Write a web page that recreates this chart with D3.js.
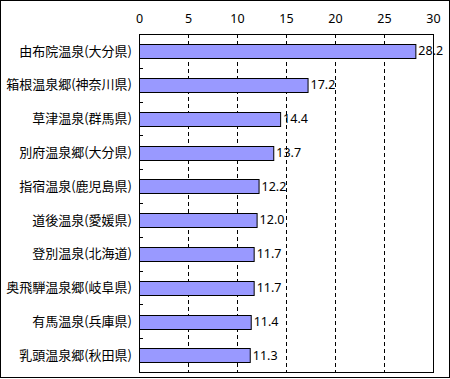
<!DOCTYPE html>
<html>
<head>
<meta charset="utf-8">
<script src="https://cdn.jsdelivr.net/npm/d3@7"></script>
<style>
  html, body { margin: 0; padding: 0; background: #fff; }
  svg text { font-family: "Noto Sans CJK JP", "Noto Sans", sans-serif; fill: #000; }
</style>
</head>
<body>
<div id="chart"></div>
<script>
// ── Data ──────────────────────────────────────────────────────────────
const onsen  = ['由布院温泉(大分県)', '箱根温泉郷(神奈川県)', '草津温泉(群馬県)', '別府温泉郷(大分県)',
                '指宿温泉(鹿児島県)', '道後温泉(愛媛県)', '登別温泉(北海道)', '奥飛騨温泉郷(岐阜県)',
                '有馬温泉(兵庫県)', '乳頭温泉郷(秋田県)'];
const values = [28.2, 17.2, 14.4, 13.7, 12.2, 12.0, 11.7, 11.7, 11.4, 11.3];
const xTicks = [0, 5, 10, 15, 20, 25, 30];

// ── Layout ────────────────────────────────────────────────────────────
const W = 450, H = 379;
const M = { top: 34, right: 17, bottom: 7, left: 139 };
const iw = W - M.left - M.right;
const ih = H - M.top - M.bottom;

const svg = d3.select('#chart').append('svg')
  .attr('width', W).attr('height', H);

// outer frame
svg.append('rect')
  .attr('x', 0.5).attr('y', 0.5)
  .attr('width', W - 1).attr('height', H - 2)
  .attr('fill', 'none').attr('stroke', '#000');

const g = svg.append('g').attr('transform', `translate(${M.left},${M.top})`);

const x = d3.scaleLinear().domain([0, 30]).range([0, iw]);
const y = d3.scaleBand().domain(onsen).range([0, ih]).paddingInner(0.6).paddingOuter(0.3);

// dashed gridlines
g.append('g')
  .selectAll('line')
  .data(xTicks.slice(1, -1))
  .join('line')
    .attr('x1', d => Math.round(x(d)) + 0.5).attr('x2', d => Math.round(x(d)) + 0.5)
    .attr('y1', 0).attr('y2', ih)
    .attr('stroke', '#000')
    .attr('stroke-dasharray', '4,3');

// plot frame
g.append('rect')
  .attr('x', 0.5).attr('y', 0.5)
  .attr('width', iw).attr('height', ih)
  .attr('fill', 'none').attr('stroke', '#000');

// top axis labels
g.append('g')
  .call(d3.axisTop(x).tickValues(xTicks).tickSize(0).tickPadding(11))
  .call(ax => ax.select('.domain').remove())
  .call(ax => ax.selectAll('text')
    .attr('font-size', 12.5)
    .style('font-family', '"Noto Sans", sans-serif'));

// category separators (small inner ticks)
g.append('g')
  .selectAll('line')
  .data(d3.range(1, onsen.length))
  .join('line')
    .attr('x1', 0).attr('x2', 4)
    .attr('y1', i => Math.round(i * ih / onsen.length) + 0.5)
    .attr('y2', i => Math.round(i * ih / onsen.length) + 0.5)
    .attr('stroke', '#000');

// bars
g.append('g')
  .selectAll('rect')
  .data(values)
  .join('rect')
    .attr('x', 0.5)
    .attr('y', (d, i) => Math.round(y(onsen[i])) + 0.5)
    .attr('width', d => x(d))
    .attr('height', Math.round(y.bandwidth()))
    .attr('fill', '#9999ff')
    .attr('stroke', '#000');

// value labels
g.append('g')
  .selectAll('text')
  .data(values)
  .join('text')
    .attr('x', d => x(d) + 3)
    .attr('y', (d, i) => y(onsen[i]) + y.bandwidth() / 2)
    .attr('dy', '0.36em')
    .attr('font-size', 12.5)
    .style('font-family', '"Noto Sans", sans-serif')
    .text(d => d.toFixed(1));

// category labels
g.append('g')
  .selectAll('text')
  .data(onsen)
  .join('text')
    .attr('x', -7)
    .attr('y', d => y(d) + y.bandwidth() / 2)
    .attr('dy', '0.36em')
    .attr('text-anchor', 'end')
    .attr('font-size', 13)
    .text(d => d);
</script>
</body>
</html>
